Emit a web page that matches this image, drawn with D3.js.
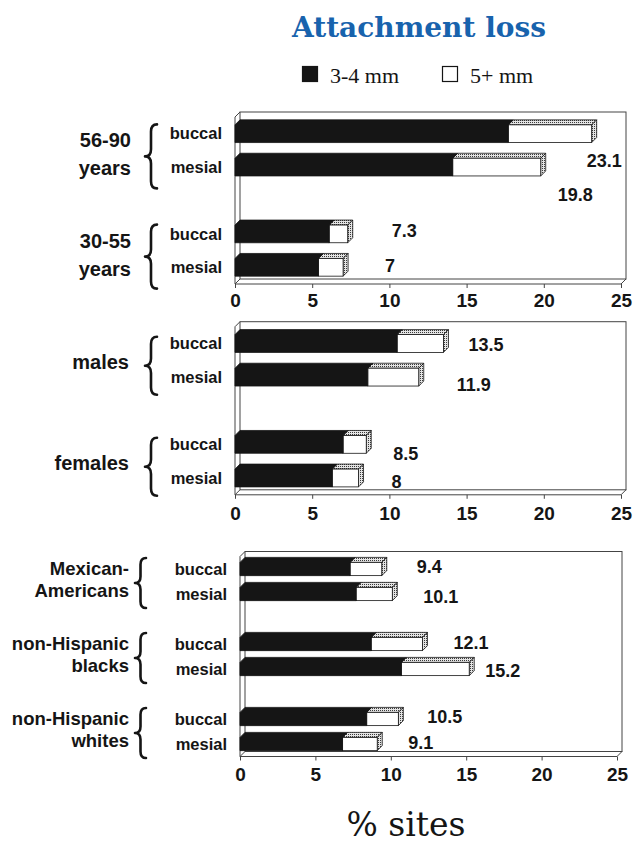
<!DOCTYPE html>
<html>
<head>
<meta charset="utf-8">
<script src="https://cdn.jsdelivr.net/npm/d3@7"></script>
<style>
  body { margin: 0; background: #fff; }
</style>
</head>
<body>
<svg id="chart" width="634" height="844"></svg>
<script>
// Percentage of sites with attachment loss, buccal vs mesial sites.
// "34" arrays hold the 3-4 mm share, "Total" arrays the 3-4 mm + 5+ mm total.
const seriesNames = ["3-4 mm", "5+ mm"];
const siteNames = ["buccal", "mesial"];
const xTickValues = [0, 5, 10, 15, 20, 25];

const ageGroups = [["56-90", "years"], ["30-55", "years"]];
const age34 = [17.7, 14.1, 6.1, 5.4];
const ageTotal = [23.1, 19.8, 7.3, 7];

const sexGroups = [["males"], ["females"]];
const sex34 = [10.5, 8.6, 7.0, 6.3];
const sexTotal = [13.5, 11.9, 8.5, 8];

const ethGroups = [["Mexican-", "Americans"], ["non-Hispanic", "blacks"], ["non-Hispanic", "whites"]];
const eth34 = [7.3, 7.7, 8.7, 10.7, 8.4, 6.8];
const ethTotal = [9.4, 10.1, 12.1, 15.2, 10.5, 9.1];

// ---- layout ----
const SANS = "'Liberation Sans', Arial, sans-serif";
const SERIF = "'Liberation Serif', 'Times New Roman', serif";
const TITLE_FONT = "'DejaVu Serif', serif";
const DX = 5, DY = 5;            // depth of the 3-D box and bars
const INK = "#151515";

const panels = [
  { groups: ageGroups, v34: age34, total: ageTotal,
    top: 117, bottom: 284, x0: 235, x1: 621, tickPad: 6,
    groupRight: 131, groupSize: 20, groupGap: 28, groupShift: 4,
    braceX: 145, braceW: 12, braceHalf: 32, braceShift: 6,
    nudges: [[-5, 27], [17, 28], [44, -3], [42, -1.5]] },
  { groups: sexGroups, v34: sex34, total: sexTotal,
    top: 326.7, bottom: 494.8, x0: 235, x1: 621, tickPad: 8,
    groupRight: 129, groupSize: 20, groupGap: 28, groupShift: 2,
    braceX: 145, braceW: 12, braceHalf: 29, braceShift: 5.5,
    nudges: [[25, 1.5], [38, 7.5], [27, 9], [33, 4]] },
  { groups: ethGroups, v34: eth34, total: ethTotal,
    top: 556.5, bottom: 756.5, x0: 240, x1: 617, tickPad: 7,
    groupRight: 129, groupSize: 18.5, groupGap: 22, groupShift: -2,
    braceX: 135, braceW: 11, braceHalf: 25, braceShift: 1.5,
    nudges: [[35, -2], [31, 3], [31, -1], [16, 1.5], [29, -2], [31, -1]] }
];

const svg = d3.select("#chart");
svg.append("rect").attr("width", 634).attr("height", 844).attr("fill", "#fff");

// dotted fill for the receding faces of the 5+ mm segment
const defs = svg.append("defs");
const pat = defs.append("pattern").attr("id", "dots")
  .attr("patternUnits", "userSpaceOnUse").attr("width", 2).attr("height", 2);
pat.append("rect").attr("width", 2).attr("height", 2).attr("fill", "#e4e4e4");
pat.append("rect").attr("width", 1).attr("height", 1).attr("fill", "#3a3a3a");

// ---- title and legend ----
svg.append("text").attr("x", 419).attr("y", 37).attr("text-anchor", "middle")
  .attr("font-family", TITLE_FONT).attr("font-weight", "bold").attr("font-size", 28)
  .attr("fill", "#1863ad").text("Attachment loss");

const legend = svg.append("g");
const legendItems = [{ x: 302, fill: INK }, { x: 442, fill: "#fff" }];
legendItems.forEach((d, i) => {
  legend.append("rect").attr("x", d.x + 0.5).attr("y", 66.5).attr("width", 15).attr("height", 15)
    .attr("fill", d.fill).attr("stroke", INK).attr("stroke-width", 1.2);
  legend.append("text").attr("x", d.x + 28).attr("y", 83)
    .attr("font-family", SERIF).attr("font-size", 22).attr("fill", INK)
    .text(seriesNames[i]);
});

// ---- curly brace ----
function bracePath(xl, w, yc, half) {
  const xr = xl + w, xm = xl + w * 0.5, r = Math.min(w * 0.6, half * 0.3);
  const y0 = yc - half, y1 = yc + half;
  return `M${xr},${y0} Q${xm},${y0} ${xm},${y0 + r} L${xm},${yc - r} Q${xm},${yc} ${xl},${yc}` +
         ` Q${xm},${yc} ${xm},${yc + r} L${xm},${y1 - r} Q${xm},${y1} ${xr},${y1}`;
}

// ---- panels ----
panels.forEach(P => {
  const g = svg.append("g");
  const x = d3.scaleLinear().domain([0, 25]).range([P.x0, P.x1]);

  // categories: buccal/mesial pairs with an empty slot between groups
  const slots = [];
  P.groups.forEach((grp, gi) => {
    if (gi > 0) slots.push("gap" + gi);
    siteNames.forEach(s => slots.push(gi + "-" + s));
  });
  const y = d3.scaleBand().domain(slots).range([P.top, P.bottom])
    .paddingInner(0.47).paddingOuter(0.235);

  // 3-D box: back wall, left wall, floor
  const xa = x(0), xb = x(25), yt = P.top, yb = P.bottom;
  const frame = g.append("g").attr("fill", "none").attr("stroke", "#444").attr("stroke-width", 1);
  frame.append("rect").attr("x", xa + DX).attr("y", yt - DY)
    .attr("width", xb - xa).attr("height", yb - yt);
  frame.append("path").attr("d",
    `M${xa},${yt} L${xa + DX},${yt - DY} M${xa},${yt} L${xa},${yb} L${xb},${yb} L${xb + DX},${yb - DY}` +
    ` M${xa},${yb} L${xa + DX},${yb - DY}`);

  // axis along the front edge of the floor
  const axis = d3.axisBottom(x).tickValues(xTickValues).tickSize(4).tickPadding(P.tickPad);
  g.append("g").attr("transform", `translate(0,${yb})`).call(axis)
    .call(a => a.select(".domain").remove())
    .call(a => a.selectAll("line").attr("stroke", "#444"))
    .call(a => a.selectAll("text").attr("font-family", SANS).attr("font-weight", "bold")
      .attr("font-size", 19).attr("fill", INK));

  // bars
  const bars = [];
  P.groups.forEach((grp, gi) => siteNames.forEach((s, si) => {
    const i = gi * 2 + si;
    bars.push({ key: gi + "-" + s, site: s, v34: P.v34[i], total: P.total[i], nudge: P.nudges[i] });
  }));

  const bg = g.selectAll("g.bar").data(bars).join("g").attr("class", "bar");
  bg.each(function (d) {
    const sel = d3.select(this);
    const top = y(d.key), h = y.bandwidth(), bot = top + h;
    const x0 = x(0), xd = x(d.v34), xt = x(d.total);
    const poly = pts => "M" + pts.map(p => p.join(",")).join("L") + "Z";
    // 5+ mm segment
    sel.append("path").attr("d", poly([[xd, top], [xd + DX, top - DY], [xt + DX, top - DY], [xt, top]]))
      .attr("fill", "url(#dots)").attr("stroke", INK).attr("stroke-width", 0.8);
    sel.append("path").attr("d", poly([[xt, top], [xt + DX, top - DY], [xt + DX, bot - DY], [xt, bot]]))
      .attr("fill", "url(#dots)").attr("stroke", INK).attr("stroke-width", 0.8);
    sel.append("rect").attr("x", xd).attr("y", top).attr("width", xt - xd).attr("height", h)
      .attr("fill", "#fff").attr("stroke", INK).attr("stroke-width", 0.8);
    // 3-4 mm segment
    sel.append("path").attr("d", poly([[x0, top], [x0 + DX, top - DY], [xd + DX, top - DY], [xd, top], [xd, bot], [x0, bot]]))
      .attr("fill", INK).attr("stroke", INK).attr("stroke-width", 0.8);
    // value label
    sel.append("text").attr("x", xt + d.nudge[0]).attr("y", top + h / 2 + d.nudge[1])
      .attr("dy", "0.35em").attr("font-family", SANS).attr("font-weight", "bold")
      .attr("font-size", 18).attr("fill", INK).text(d.total);
    // site label
    g.append("text").attr("x", P.x0 - 13).attr("y", top + h / 2).attr("dy", "0.35em")
      .attr("text-anchor", "end").attr("font-family", SANS).attr("font-weight", "bold")
      .attr("font-size", 16.5).attr("fill", INK).text(d.site);
  });

  // group labels and braces
  P.groups.forEach((grp, gi) => {
    const yA = y(gi + "-buccal") + y.bandwidth() / 2;
    const yB = y(gi + "-mesial") + y.bandwidth() / 2;
    const mid = (yA + yB) / 2;
    const n = grp.length;
    grp.forEach((line, li) => {
      g.append("text").attr("x", P.groupRight)
        .attr("y", mid + P.groupShift + (li - (n - 1) / 2) * P.groupGap)
        .attr("dy", "0.35em").attr("text-anchor", "end")
        .attr("font-family", SANS).attr("font-weight", "bold").attr("font-size", P.groupSize)
        .attr("fill", INK).text(line);
    });
    g.append("path").attr("d", bracePath(P.braceX, P.braceW, mid + P.braceShift, P.braceHalf))
      .attr("fill", "none").attr("stroke", INK).attr("stroke-width", 2.6)
      .attr("stroke-linecap", "round").attr("stroke-linejoin", "round");
  });
});

// axis title
svg.append("text").attr("x", 406).attr("y", 836).attr("text-anchor", "middle")
  .attr("font-family", TITLE_FONT).attr("font-size", 33).attr("fill", INK).text("% sites");
</script>
</body>
</html>
